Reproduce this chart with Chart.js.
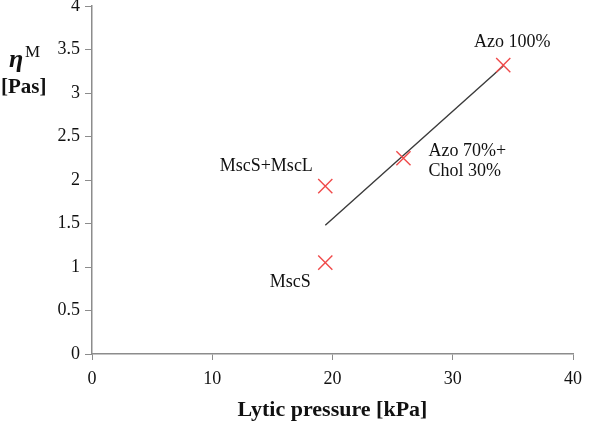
<!DOCTYPE html>
<html lang="en">
  <head>
    <meta charset="UTF-8" />
    <title>Lytic pressure vs membrane viscosity</title>
    <script src="https://cdn.jsdelivr.net/npm/chart.js"></script>
    <style>
      body { margin: 0; background: #fff; }
      #wrap { width: 605px; height: 426px; position: relative; }
    </style>
  </head>
  <body>
    <div id="wrap"><canvas id="viscChart"></canvas></div>

    <script>
      // data
      const sampleNames = ["MscS", "MscS+MscL", "Azo 70%+\nChol 30%", "Azo 100%"];
      const lyticPressure = [19.4, 19.4, 25.9, 34.2];
      const viscosity = [1.05, 1.93, 2.25, 3.32];
      // trend line end points
      const trendX = [19.4, 34.2];
      const trendY = [1.48, 3.31];
      const xTicks = [0, 10, 20, 30, 40];
      const yTicks = [0, 0.5, 1, 1.5, 2, 2.5, 3, 3.5, 4];

      // where each sample label sits relative to its marker (px)
      const labelOffsets = [
        { dx: -35, dy: 20, align: "center" },
        { dx: -59, dy: -20, align: "center" },
        { dx: 25, dy: -7, align: "left" },
        { dx: 9, dy: -23, align: "center" },
      ];

      const serif = "'Liberation Serif', 'Times New Roman', serif";
      const axisGrey = "#8c8c8c";

      const labelsPlugin = {
        id: "labels",
        afterDatasetsDraw(chart) {
          const ctx = chart.ctx;
          const xs = chart.scales.x;
          const ys = chart.scales.y;
          ctx.save();
          ctx.fillStyle = "#111";
          ctx.textBaseline = "middle";
          ctx.font = "18px " + serif;
          sampleNames.forEach((name, i) => {
            const px = xs.getPixelForValue(lyticPressure[i]);
            const py = ys.getPixelForValue(viscosity[i]);
            const o = labelOffsets[i];
            ctx.textAlign = o.align;
            name.split("\n").forEach((line, j) => {
              ctx.fillText(line, px + o.dx, py + o.dy + j * 20);
            });
          });

          // y axis title: eta^M [Pas]
          ctx.textAlign = "left";
          ctx.font = "bold italic 26px " + serif;
          ctx.fillText("η", 9, 60);
          ctx.font = "17px " + serif;
          ctx.fillText("M", 25, 53);
          ctx.font = "bold 21px " + serif;
          ctx.fillText("[Pas]", 1, 88);
          ctx.restore();
        },
      };

      new Chart(document.getElementById("viscChart"), {
        type: "scatter",
        data: {
          datasets: [
            {
              label: "samples",
              data: lyticPressure.map((x, i) => ({ x: x, y: viscosity[i] })),
              pointStyle: "crossRot",
              pointRadius: 10,
              pointBorderWidth: 1.4,
              borderColor: "#f04a4a",
              backgroundColor: "#f04a4a",
              order: 1,
            },
            {
              label: "trend",
              type: "line",
              data: trendX.map((x, i) => ({ x: x, y: trendY[i] })),
              borderColor: "#3a3a3a",
              borderWidth: 1.4,
              pointRadius: 0,
              fill: false,
              order: 2,
            },
          ],
        },
        options: {
          responsive: true,
          maintainAspectRatio: false,
          animation: false,
          layout: {
            autoPadding: false, // otherwise the marker radius pushes the plot down
            padding: { left: 0, right: 32, top: 6, bottom: 0 },
          },
          plugins: {
            legend: { display: false },
            tooltip: { enabled: false },
          },
          scales: {
            x: {
              type: "linear",
              min: 0,
              max: 40,
              afterBuildTicks: (s) => {
                s.ticks = xTicks.map((v) => ({ value: v }));
              },
              afterFit: (s) => {
                s.height = 72;
                s.paddingLeft = 0;
                s.paddingRight = 0;
              },
              grid: {
                drawOnChartArea: false,
                drawTicks: true,
                tickLength: 6,
                color: axisGrey,
              },
              border: { color: axisGrey, width: 1.5 },
              ticks: {
                padding: 8,
                color: "#111",
                font: { family: serif, size: 18 },
              },
              title: {
                display: true,
                text: "Lytic pressure [kPa]",
                color: "#111",
                font: { family: serif, size: 22, weight: "bold" },
                padding: { top: 0, bottom: 2 },
              },
            },
            y: {
              type: "linear",
              min: 0,
              max: 4,
              afterBuildTicks: (s) => {
                s.ticks = yTicks.map((v) => ({ value: v }));
              },
              afterFit: (s) => {
                s.width = 92;
                s.paddingTop = 0;
                s.paddingBottom = 0;
              },
              grid: {
                drawOnChartArea: false,
                drawTicks: true,
                tickLength: 7,
                color: axisGrey,
              },
              border: { color: axisGrey, width: 1.5 },
              ticks: {
                padding: 5,
                color: "#111",
                font: { family: serif, size: 18 },
                callback: (v) => String(v),
              },
            },
          },
        },
        plugins: [labelsPlugin],
      });
    </script>
  </body>
</html>
